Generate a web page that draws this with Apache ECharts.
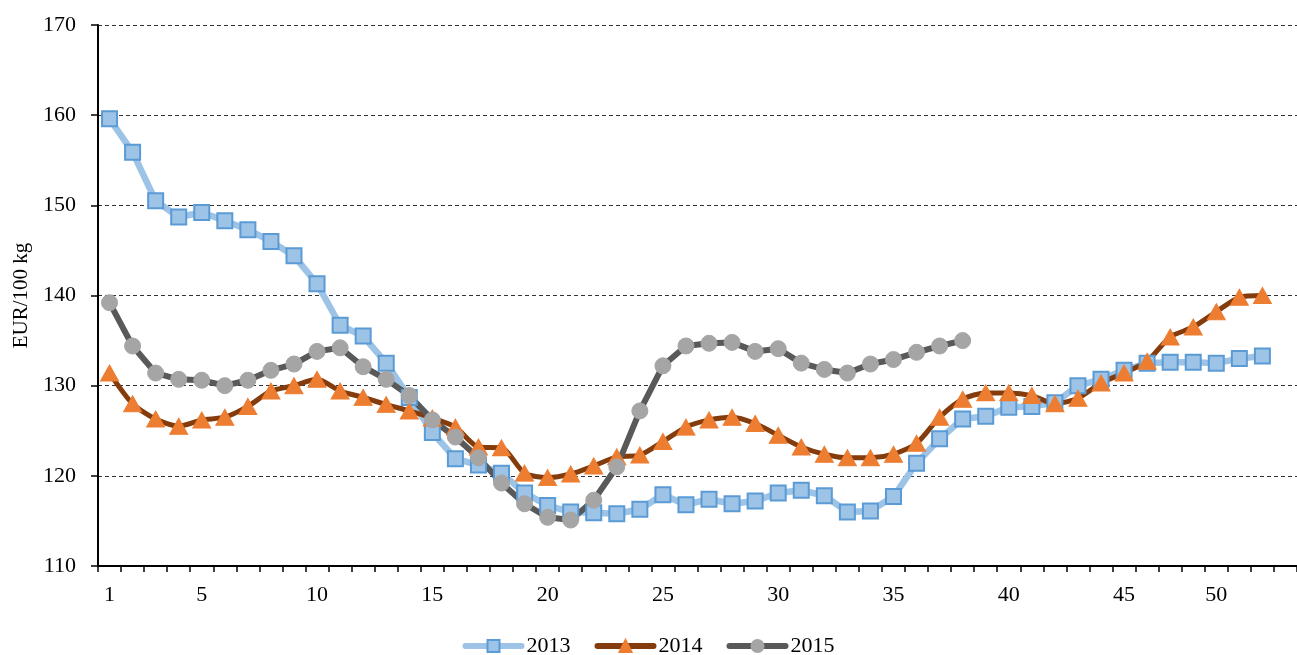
<!DOCTYPE html>
<html>
<head>
<meta charset="utf-8">
<script src="https://cdn.jsdelivr.net/npm/echarts@6/dist/echarts.min.js"></script>
<style>
  html, body { margin: 0; padding: 0; background: #fff; }
  #chart { width: 1297px; height: 655px; }
</style>
</head>
<body>
<div id="chart"></div>
<script>
// weeks on the x axis (week 49 is missing in the source, last slot is empty)
const weeks = ['1','2','3','4','5','6','7','8','9','10','11','12','13','14','15','16','17','18','19','20',
  '21','22','23','24','25','26','27','28','29','30','31','32','33','34','35','36','37','38','39','40',
  '41','42','43','44','45','46','47','48','50','51','52','']

const years = ['2013', '2014', '2015']

const price2013 = [159.6,155.9,150.5,148.7,149.2,148.3,147.3,146.0,144.4,141.3,
  136.7,135.5,132.5,128.7,124.8,121.9,121.2,120.3,118.1,116.7,
  116.0,115.9,115.8,116.3,117.9,116.8,117.4,116.9,117.2,118.1,
  118.4,117.8,116.0,116.1,117.7,121.4,124.1,126.3,126.6,127.6,
  127.7,128.1,130.0,130.7,131.7,132.5,132.6,132.6,132.5,133.0,133.3]

const price2014 = [131.4,128.0,126.3,125.5,126.2,126.5,127.7,129.4,130.0,130.7,
  129.4,128.7,127.9,127.2,126.4,125.4,123.2,123.1,120.3,119.8,
  120.2,121.1,122.1,122.3,123.8,125.4,126.2,126.5,125.8,124.5,
  123.2,122.4,122.0,122.0,122.4,123.6,126.5,128.5,129.2,129.2,
  128.9,128.0,128.6,130.3,131.4,132.7,135.4,136.5,138.2,139.8,140.0]

const price2015 = [139.2,134.4,131.4,130.7,130.6,130.0,130.6,131.7,132.4,133.8,
  134.2,132.1,130.7,128.9,126.2,124.3,122.0,119.2,116.9,115.4,
  115.1,117.3,121.0,127.2,132.2,134.4,134.7,134.8,133.8,134.1,
  132.5,131.8,131.4,132.4,132.9,133.7,134.4,135.0]

const yTicks = [110, 170, 10] // min, max, interval

const font = 'Liberation Serif'

let chart = echarts.init(document.getElementById('chart'))

let option = {
  animation: false,
  backgroundColor: '#fff',
  textStyle: { fontFamily: font, color: '#000' },
  grid: { left: 98, top: 25, width: 1205, height: 541 },
  legend: {
    top: 630,
    left: 'center',
    itemWidth: 56,
    itemHeight: 15,
    itemGap: 24,
    textStyle: { fontFamily: font, fontSize: 22, color: '#000' },
    lineStyle: { width: 6, cap: 'round' },
    data: years
  },
  xAxis: {
    type: 'category',
    data: weeks,
    boundaryGap: true,
    axisLine: { lineStyle: { color: '#000', width: 2 } },
    axisTick: { show: true, interval: 0, length: 6, lineStyle: { color: '#000', width: 1.5 } },
    axisLabel: {
      // 只显示 1 和 5 的倍数
      interval: function (i, v) { return v === '1' || (v !== '' && Number(v) % 5 === 0) },
      fontFamily: font, fontSize: 22, color: '#000', margin: 18
    },
    splitLine: { show: false }
  },
  yAxis: {
    type: 'value',
    min: yTicks[0],
    max: yTicks[1],
    interval: yTicks[2],
    name: 'EUR/100 kg',
    nameLocation: 'middle',
    nameGap: 65,
    nameTextStyle: { fontFamily: font, fontSize: 21, color: '#000' },
    axisLine: { show: true, lineStyle: { color: '#000', width: 2 } },
    axisTick: { show: true, length: 7, lineStyle: { color: '#000', width: 1.5 } },
    axisLabel: { fontFamily: font, fontSize: 22, color: '#000', margin: 22 },
    splitLine: { show: true, lineStyle: { color: '#333', width: 1, type: [4, 3] } }
  },
  series: [
    {
      name: '2013',
      type: 'line',
      data: price2013,
      showAllSymbol: true,
      symbol: 'rect',
      symbolSize: 15,
      lineStyle: { color: '#9DC3E6', width: 6.5 },
      itemStyle: { color: '#9DC3E6', borderColor: '#5B9BD5', borderWidth: 2 }
    },
    {
      name: '2014',
      type: 'line',
      data: price2014,
      showAllSymbol: true,
      smooth: 0.25,
      symbol: 'triangle',
      symbolSize: [18, 16],
      lineStyle: { color: '#843C0C', width: 5 },
      itemStyle: { color: '#ED7D31', borderColor: '#ED7D31', borderWidth: 1 }
    },
    {
      name: '2015',
      type: 'line',
      data: price2015,
      showAllSymbol: true,
      symbol: 'circle',
      symbolSize: 16,
      lineStyle: { color: '#595959', width: 6 },
      itemStyle: { color: '#A5A5A5', borderColor: '#A5A5A5', borderWidth: 1 }
    }
  ]
}

chart.setOption(option, true)
</script>
</body>
</html>
